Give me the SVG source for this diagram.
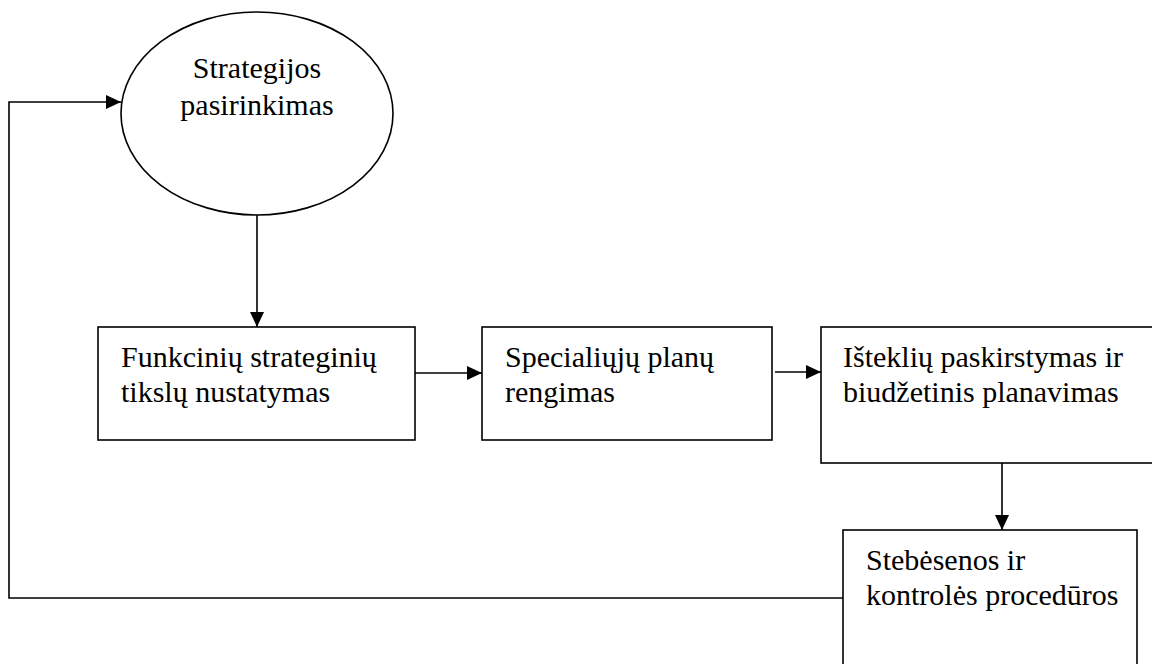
<svg xmlns="http://www.w3.org/2000/svg" width="1152" height="664" viewBox="0 0 1152 664">
<defs>
<marker id="arr" markerWidth="15" markerHeight="14" refX="15" refY="7" orient="auto" markerUnits="userSpaceOnUse">
<path d="M0,0 L15,7 L0,14 Z" fill="#000"/>
</marker>
<style>
.shape{fill:#fff;stroke:#000;stroke-width:1.6}
.conn{fill:none;stroke:#000;stroke-width:1.6}
.t{font-family:"Liberation Serif","Times New Roman",serif;font-size:30px;fill:#000}
</style>
</defs>
<rect width="1152" height="664" fill="#fff"/>
<g id="connectors">
<path class="conn" d="M257,215 L257,327" marker-end="url(#arr)"/>
<path class="conn" d="M415,373 L482,373" marker-end="url(#arr)"/>
<path class="conn" d="M775,372 L821,372" marker-end="url(#arr)"/>
<path class="conn" d="M1002,463 L1002,530" marker-end="url(#arr)"/>
<path class="conn" d="M843,598 L9,598 L9,102 L121,102" marker-end="url(#arr)"/>
</g>
<g id="node-strategijos">
<ellipse class="shape" cx="257" cy="113.5" rx="136" ry="101.5"/>
<text class="t" x="257" y="78" text-anchor="middle">Strategijos</text>
<text class="t" x="257" y="115" text-anchor="middle">pasirinkimas</text>
</g>
<g id="node-funkciniu">
<rect class="shape" x="98" y="327" width="317" height="113"/>
<text class="t" x="121" y="367">Funkcinių strateginių</text>
<text class="t" x="121" y="402">tikslų nustatymas</text>
</g>
<g id="node-specialiuju">
<rect class="shape" x="482" y="327" width="290" height="113"/>
<text class="t" x="505" y="367">Specialiųjų planų</text>
<text class="t" x="505" y="402">rengimas</text>
</g>
<g id="node-istekliu">
<rect class="shape" x="821" y="327" width="340" height="136"/>
<text class="t" x="843" y="367">Išteklių paskirstymas ir</text>
<text class="t" x="843" y="402">biudžetinis planavimas</text>
</g>
<g id="node-stebesenos">
<rect class="shape" x="843" y="530" width="294" height="150"/>
<text class="t" x="866" y="570">Stebėsenos ir</text>
<text class="t" x="866" y="605">kontrolės procedūros</text>
</g>
</svg>
